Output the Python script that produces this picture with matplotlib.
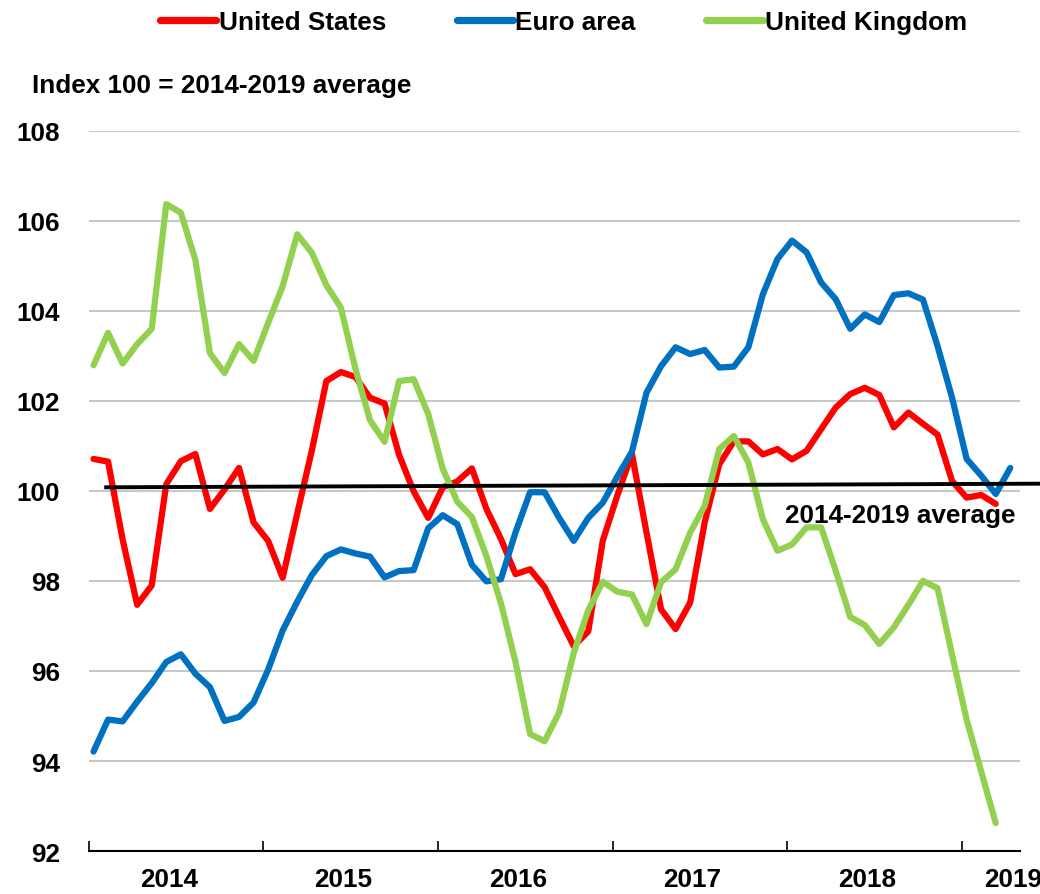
import numpy as np
import matplotlib
matplotlib.use('Agg')
import matplotlib.pyplot as plt
from matplotlib.lines import Line2D
from matplotlib import font_manager

# ---- data ----
years = ['2014', '2015', '2016', '2017', '2018', '2019']
yticks = [92, 94, 96, 98, 100, 102, 104, 106, 108]

united_states = [
    100.71, 100.65, 98.92, 97.47, 97.90, 100.15, 100.66, 100.82, 99.60, 100.03, 100.51, 99.30,
    98.89, 98.07, 99.50, 100.89, 102.44, 102.64, 102.53, 102.07, 101.94, 100.80, 99.99, 99.40,
    100.08, 100.21, 100.50, 99.60, 98.93, 98.15, 98.26, 97.86, 97.20, 96.55, 96.88, 98.90,
    99.90, 100.82, 99.08, 97.37, 96.93, 97.52, 99.30, 100.59, 101.10, 101.10, 100.81, 100.93,
    100.70, 100.89, 101.37, 101.85, 102.15, 102.29, 102.13, 101.41, 101.74, 101.49, 101.25, 100.22,
    99.85, 99.91, 99.71]

euro_area = [
    94.21, 94.92, 94.88, 95.32, 95.73, 96.20, 96.37, 95.94, 95.64, 94.89, 94.98, 95.30,
    96.03, 96.90, 97.54, 98.13, 98.55, 98.70, 98.61, 98.54, 98.08, 98.22, 98.24, 99.17,
    99.46, 99.26, 98.36, 97.99, 98.04, 99.08, 99.97, 99.97, 99.40, 98.89, 99.40, 99.74,
    100.32, 100.87, 102.18, 102.77, 103.19, 103.04, 103.13, 102.74, 102.76, 103.19, 104.37, 105.15,
    105.56, 105.30, 104.63, 104.26, 103.60, 103.92, 103.75, 104.35, 104.39, 104.25, 103.22, 102.07,
    100.71, 100.34, 99.93, 100.51]

united_kingdom = [
    102.79, 103.51, 102.83, 103.26, 103.60, 106.37, 106.18, 105.13, 103.06, 102.62, 103.26, 102.89,
    103.73, 104.55, 105.70, 105.29, 104.57, 104.07, 102.71, 101.57, 101.09, 102.44, 102.48, 101.71,
    100.49, 99.76, 99.42, 98.55, 97.50, 96.20, 94.60, 94.44, 95.08, 96.40, 97.35, 97.98,
    97.76, 97.70, 97.04, 97.97, 98.26, 99.07, 99.67, 100.93, 101.22, 100.63, 99.37, 98.67,
    98.81, 99.19, 99.19, 98.23, 97.20, 97.02, 96.60, 96.97, 97.47, 98.00, 97.84, 96.36,
    94.92, 93.77, 92.62]

avg_line = [100.08, 100.16]

series_names = ['United States', 'Euro area', 'United Kingdom']
series_colors = ['#FF0000', '#0070C0', '#92D050']

# ---- style ----
available = {f.name for f in font_manager.fontManager.ttflist}
if 'Liberation Sans Narrow' in available:
    plt.rcParams['font.family'] = ['Liberation Sans Narrow', 'DejaVu Sans']
    FS = 22.6
else:
    plt.rcParams['font.family'] = ['Liberation Sans', 'DejaVu Sans']
    FS = 18.8
plt.rcParams['font.weight'] = 'bold'

fig = plt.figure(figsize=(10.4, 8.95), dpi=100)
ax = fig.add_axes([0.0853, 0.048, 0.8955, 0.8048])

for vals, name, col in zip([united_states, euro_area, united_kingdom], series_names, series_colors):
    x = np.arange(len(vals)) + 0.33
    ax.plot(x, vals, color=col, lw=4.5, solid_capstyle='round',
            solid_joinstyle='round', label=name, zorder=3)

# average (trend) line
ax.plot([1.2, 65.3], avg_line, color='black', lw=2.8, zorder=4, clip_on=False)
ax.text(55.8, 99.46, '2014-2019 average', ha='center', va='center',
        fontsize=FS, fontweight='bold', zorder=5)

ax.set_xlim(0, 64)
ax.set_ylim(92, 108)
ax.set_yticks(yticks)
ax.set_yticklabels([str(v) for v in yticks], fontsize=FS, fontweight='bold')
ax.tick_params(axis='y', length=0, pad=20.6)
ax.grid(axis='y', color='#c8c8c8', lw=1.5, zorder=0)
ax.set_axisbelow(True)

ax.set_xticks([0, 12, 24, 36, 48, 60])
ax.set_xticklabels([])
ax.tick_params(axis='x', direction='in', length=7.2, width=1.2, color='black')

for s in ['left', 'right', 'top']:
    ax.spines[s].set_visible(False)
ax.spines['bottom'].set_linewidth(1.5)
ax.spines['bottom'].set_color('black')

label_pos = [5.5, 17.5, 29.5, 41.5, 53.5, 63.5]
for pos, yr in zip(label_pos, years):
    ax.text(pos, -0.039, yr, transform=ax.get_xaxis_transform(), ha='center',
            va='center', fontsize=FS, fontweight='bold', clip_on=False)

fig.text(32 / 1040, 1 - 86 / 895, 'Index 100 = 2014-2019 average', ha='left',
         va='center', fontsize=FS, fontweight='bold')

leg_handles = [Line2D([0], [0], color=c, lw=5.2, solid_capstyle='round') for c in series_colors]
fig.legend(leg_handles, series_names, loc='center', bbox_to_anchor=(0.542, 1 - 23 / 895),
           ncol=3, frameon=False, handlelength=2.15 * 18.8 / FS, handletextpad=0.1,
           columnspacing=2.7 * 18.8 / FS, prop={'size': FS, 'weight': 'bold'})

fig.savefig('out.png', dpi=100)
